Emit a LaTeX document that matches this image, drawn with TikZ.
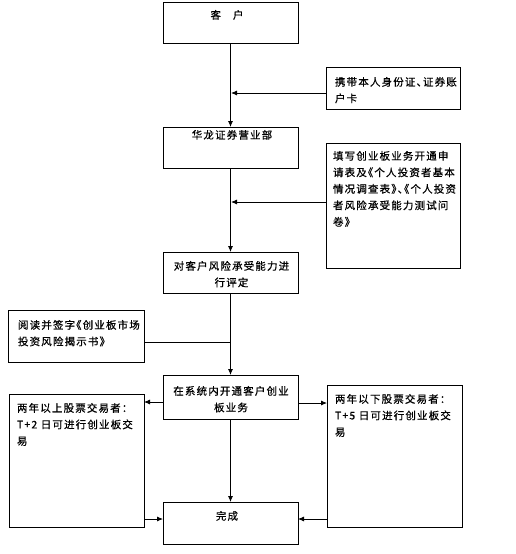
\documentclass[tikz,border=0pt]{standalone}
\usepackage{fontspec}
\newfontfamily\cjk[LetterSpace=11,RawFeature=+halt,FakeBold=0.6]{Noto Sans CJK SC}
\usetikzlibrary{arrows.meta}
\begin{document}
\begin{tikzpicture}[x=1pt,y=-1pt,
  box/.style={draw=black,line width=0.9pt,inner sep=0pt,outer sep=0pt,rectangle},
  txt/.style={inner sep=0pt,outer sep=0pt,font=\cjk\fontsize{10.5}{16.5}\selectfont},
  arr/.style={line width=0.8pt,-{Latex[length=6pt,width=5pt]}},
  ln/.style={line width=0.8pt}]
\useasboundingbox[fill=white] (0,0) rectangle (516,554);
% boxes
\node[box,minimum width=135pt,minimum height=41pt] (kh) at (230.5,22.5) {};
\node[box,minimum width=134pt,minimum height=42pt] (xd) at (393,88) {};
\node[box,minimum width=135pt,minimum height=41pt] (hl) at (230.5,147.5) {};
\node[box,minimum width=134pt,minimum height=125pt] (tx) at (393,205.5) {};
\node[box,minimum width=135pt,minimum height=41pt] (pd) at (230.5,272.5) {};
\node[box,minimum width=136pt,minimum height=52pt] (yd) at (76,336) {};
\node[box,minimum width=135pt,minimum height=44pt] (kt) at (230.5,397) {};
\node[box,minimum width=135pt,minimum height=133pt] (ys) at (76.5,460.5) {};
\node[box,minimum width=135pt,minimum height=142pt] (yx) at (394.5,456) {};
\node[box,minimum width=135pt,minimum height=42pt] (wc) at (230.5,523) {};
% texts
\node[txt,anchor=north] (tkh) at (227,10) {客\hspace{12pt}户};
\node[txt,anchor=north west,align=left] (txd) at (335,77) {携带本人身份证、证券账\\户卡};
\node[txt,anchor=north] (thl) at (232,130) {华龙证券营业部};
\node[txt,anchor=north west,align=left] (ttx) at (333,151) {填写创业板业务开通申\\请表及《个人投资者基本\\情况调查表》、《个人投资\\者风险承受能力测试问\\卷》};
\node[txt,anchor=north,align=center] (tpd) at (231.5,261) {对客户风险承受能力进\\行评定};
\node[txt,anchor=north west,align=left] (tyd) at (18,320) {阅读并签字《创业板市场\\投资风险揭示书》};
\node[txt,anchor=north,align=center] (tkt) at (231,386) {在系统内开通客户创业\\板业务};
\node[txt,anchor=north west,align=left] (tys) at (17,403) {两年以上股票交易者：\\T+2 日可进行创业板交\\易};
\node[txt,anchor=north west,align=left] (tyx) at (335,394) {两年以下股票交易者：\\T+5 日可进行创业板交\\易};
\node[txt,anchor=north] (twc) at (227,511) {完成};
% junction coordinates on main line
\coordinate (j1) at (231,93);
\coordinate (j2) at (231,202);
\coordinate (j3) at (231,342);
% connectors
\draw[arr] (kh.south) -- (hl.north);
\draw[arr] (xd.west |- j1) -- (j1);
\draw[arr] (hl.south) -- (pd.north);
\draw[arr] (tx.west |- j2) -- (j2);
\draw[arr] (pd.south) -- (kt.north);
\draw[ln] (yd.east |- j3) -- (j3);
\draw[arr] (kt.west |- 0,402) -- (ys.east |- 0,402);
\draw[arr] (kt.east |- 0,403) -- (yx.west |- 0,403);
\draw[arr] (kt.south) -- (wc.north);
\draw[arr] (ys.east |- 0,519) -- (wc.west |- 0,519);
\draw[arr] (yx.west |- 0,519) -- (wc.east |- 0,519);
\end{tikzpicture}
\end{document}
